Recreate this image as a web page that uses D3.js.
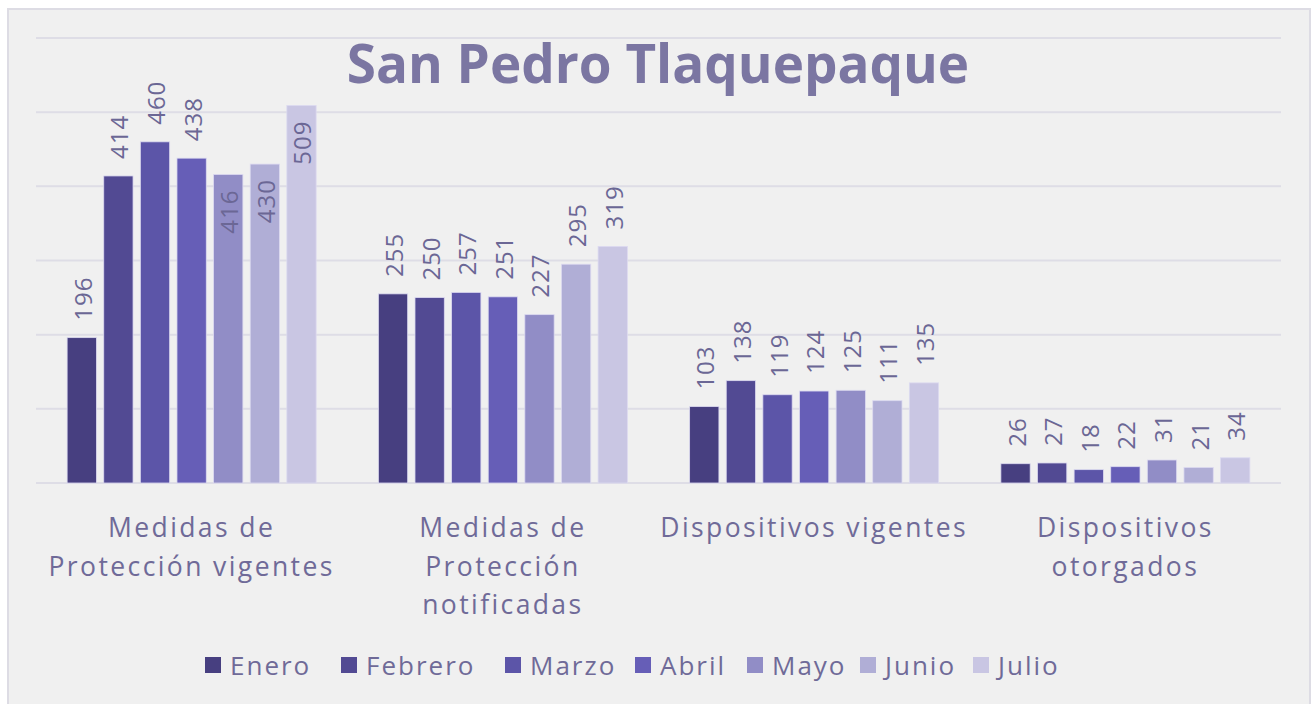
<!DOCTYPE html>
<html>
<head>
<meta charset="utf-8">
<script src="https://cdn.jsdelivr.net/npm/d3@7"></script>
<style>
  body { margin: 0; background: #ffffff; }
  svg { font-family: "Open Sans", Lato, sans-serif; }
</style>
</head>
<body>
<div id="graph"></div>
<script>
// chart size
var width = 1312, height = 704;

// data: one row per category, one value per month
var months = ["Enero", "Febrero", "Marzo", "Abril", "Mayo", "Junio", "Julio"];
var colors = ["#473f80", "#524a93", "#5c55a8", "#665eb7", "#918dc6", "#b0aed6", "#c9c6e3"];

var dataset = [
  {cat: ["Medidas de", "Protección vigentes"], values: [196, 414, 460, 438, 416, 430, 509]},
  {cat: ["Medidas de", "Protección", "notificadas"], values: [255, 250, 257, 251, 227, 295, 319]},
  {cat: ["Dispositivos vigentes"], values: [103, 138, 119, 124, 125, 111, 135]},
  {cat: ["Dispositivos", "otorgados"], values: [26, 27, 18, 22, 31, 21, 34]}
];

// labels that Excel put inside the bar end
var inside = {"0-4": true, "0-5": true, "0-6": true};

var svg = d3.select("#graph").append("svg")
    .attr("width", width)
    .attr("height", height);

// chart frame
svg.append("rect")
    .attr("x", 8).attr("y", 9)
    .attr("width", 1302).attr("height", 700)
    .attr("fill", "#f0f0f0")
    .attr("stroke", "#dddce4")
    .attr("stroke-width", 2);

var plot = {left: 36, right: 1281, top: 38, bottom: 483};

var x0 = d3.scaleBand()
    .domain(d3.range(dataset.length))
    .range([plot.left, plot.right])
    .paddingInner(0.2)
    .paddingOuter(0.1);

var x1 = d3.scaleBand()
    .domain(months)
    .range([0, x0.bandwidth()])
    .paddingInner(0.2)
    .paddingOuter(0);

var yScale = d3.scaleLinear()
    .domain([0, 600])
    .range([plot.bottom, plot.top]);

// gridlines
svg.append("g")
    .selectAll("line")
    .data(yScale.ticks(6))
    .enter().append("line")
    .attr("x1", plot.left).attr("x2", plot.right)
    .attr("y1", function(d) { return yScale(d); })
    .attr("y2", function(d) { return yScale(d); })
    .attr("stroke", "#dedde6")
    .attr("stroke-width", 2);

// title
svg.append("text")
    .attr("x", 658)
    .attr("y", 83)
    .attr("text-anchor", "middle")
    .attr("fill", "#7b76a2")
    .style("font-size", "53px")
    .style("font-weight", "700")
    .text("San Pedro Tlaquepaque");

// groups
var groups = svg.selectAll(".grp")
    .data(dataset)
    .enter().append("g")
    .attr("class", "grp")
    .attr("transform", function(d, i) { return "translate(" + x0(i) + ",0)"; });

groups.selectAll("rect")
    .data(function(d) { return d.values.map(function(v, j) { return {m: months[j], v: v, j: j}; }); })
    .enter().append("rect")
    .attr("x", function(d) { return x1(d.m); })
    .attr("y", function(d) { return yScale(d.v); })
    .attr("width", x1.bandwidth())
    .attr("height", function(d) { return yScale(0) - yScale(d.v); })
    .attr("fill", function(d) { return colors[d.j]; })
    .attr("stroke", "#dcdaf0")
    .attr("stroke-width", 0.8);

// value labels, rotated
groups.each(function(g, gi) {
  d3.select(this).selectAll(".lbl")
    .data(g.values)
    .enter().append("text")
    .attr("class", "lbl")
    .attr("transform", function(v, j) {
      var cx = x1(months[j]) + x1.bandwidth() / 2 + 10;
      var yy = inside[gi + "-" + j] ? yScale(v) + 15 : yScale(v) - 17;
      return "translate(" + cx + "," + yy + ") rotate(-90)";
    })
    .attr("text-anchor", function(v, j) { return inside[gi + "-" + j] ? "end" : "start"; })
    .attr("fill", "#6b6795")
    .style("font-size", "24px")
    .style("letter-spacing", "1px")
    .text(function(v) { return v; });
});

// category labels
groups.each(function(g) {
  var t = d3.select(this).append("text")
    .attr("text-anchor", "middle")
    .attr("fill", "#6f6a98")
    .style("font-size", "26.5px")
    .style("letter-spacing", "2.4px");
  g.cat.forEach(function(line, k) {
    t.append("tspan")
      .attr("x", x0.bandwidth() / 2)
      .attr("y", 537 + k * 38.5)
      .text(line);
  });
});

// legend
var legendX = [205, 341, 505, 635, 747, 860, 973];
var legend = svg.selectAll(".leg")
    .data(months)
    .enter().append("g")
    .attr("class", "leg")
    .attr("transform", function(d, i) { return "translate(" + legendX[i] + ",657)"; });

legend.append("rect")
    .attr("width", 16).attr("height", 16)
    .attr("fill", function(d, i) { return colors[i]; });

legend.append("text")
    .attr("x", 25).attr("y", 18)
    .attr("fill", "#6f6a98")
    .style("font-size", "26px")
    .style("letter-spacing", "2px")
    .text(function(d) { return d; });
</script>
</body>
</html>
